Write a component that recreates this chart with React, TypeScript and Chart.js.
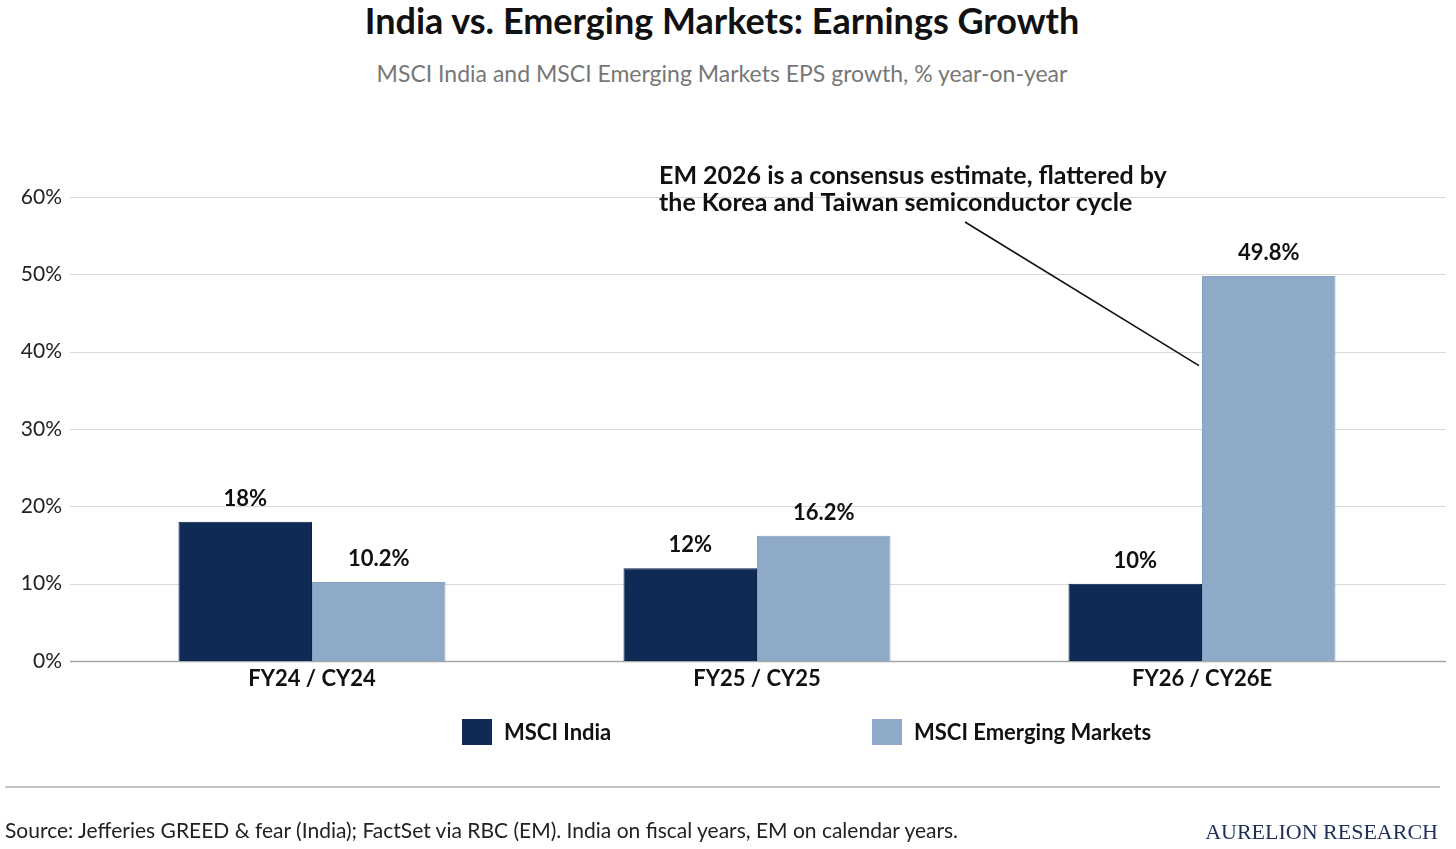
import { useEffect, useRef } from 'react';
import { Chart, registerables } from 'chart.js';

Chart.register(...registerables);

// data
const categories = ['FY24 / CY24', 'FY25 / CY25', 'FY26 / CY26E'];
const indiaGrowth = [18, 12, 10];
const emGrowth = [10.2, 16.2, 49.8];
const indiaLabels = ['18%', '12%', '10%'];
const emLabels = ['10.2%', '16.2%', '49.8%'];
const yTicks = [0, 10, 20, 30, 40, 50, 60];

const INDIA_COLOR = '#0f2a54';
const EM_COLOR = '#8faac8';
const FONT = 'Lato, "Open Sans", sans-serif';

const annotationLines = [
  'EM 2026 is a consensus estimate, flattered by',
  'the Korea and Taiwan semiconductor cycle',
];

// horizontal grid lines, wider than the chart area (as in the reference)
const gridPlugin = {
  id: 'wideGrid',
  beforeDatasetsDraw(chart: any) {
    const { ctx } = chart;
    const y = chart.scales.y;
    ctx.save();
    yTicks.forEach((t) => {
      const py = Math.round(y.getPixelForValue(t)) + 0.5;
      ctx.beginPath();
      ctx.strokeStyle = t === 0 ? '#a6a6a6' : '#d9d9d9';
      ctx.lineWidth = t === 0 ? 1.5 : 1.2;
      ctx.moveTo(70, py);
      ctx.lineTo(1446, py);
      ctx.stroke();
    });
    ctx.restore();
  },
};

// value labels above each bar
const valueLabelPlugin = {
  id: 'valueLabels',
  afterDatasetsDraw(chart: any) {
    const { ctx } = chart;
    ctx.save();
    ctx.font = `bold 22px ${FONT}`;
    ctx.fillStyle = '#111';
    ctx.textAlign = 'center';
    ctx.textBaseline = 'middle';
    [indiaLabels, emLabels].forEach((labels, di) => {
      chart.getDatasetMeta(di).data.forEach((bar: any, i: number) => {
        ctx.fillText(labels[i], bar.x, bar.y - 23);
      });
    });
    ctx.restore();
  },
};

// callout for the EM 2026 bar
const annotationPlugin = {
  id: 'emNote',
  afterDraw(chart: any) {
    const { ctx } = chart;
    const bar = chart.getDatasetMeta(1).data[2];
    const y = chart.scales.y;
    ctx.save();
    ctx.font = `bold 25px ${FONT}`;
    ctx.fillStyle = '#111';
    ctx.textAlign = 'left';
    ctx.textBaseline = 'middle';
    annotationLines.forEach((line, i) => {
      ctx.fillText(line, 659, 176 + i * 27);
    });
    ctx.beginPath();
    ctx.strokeStyle = '#111';
    ctx.lineWidth = 1.6;
    ctx.moveTo(965, 222);
    ctx.lineTo(bar.x - bar.width / 2 - 3, y.getPixelForValue(38.2));
    ctx.stroke();
    ctx.restore();
  },
};

export default function App() {
  const chartRef = useRef<HTMLCanvasElement>(null);
  const chartInstance = useRef<Chart | null>(null);

  useEffect(() => {
    document.body.style.margin = '0';
    if (!chartRef.current) return;
    if (chartInstance.current) chartInstance.current.destroy();

    const ctx = chartRef.current.getContext('2d');
    if (!ctx) return;

    chartInstance.current = new Chart(ctx, {
      type: 'bar',
      data: {
        labels: categories,
        datasets: [
          {
            label: 'MSCI India',
            data: indiaGrowth,
            backgroundColor: INDIA_COLOR,
            borderColor: '#0b2148',
            borderWidth: 1,
            categoryPercentage: 0.6,
            barPercentage: 1,
          },
          {
            label: 'MSCI Emerging Markets',
            data: emGrowth,
            backgroundColor: EM_COLOR,
            borderColor: '#86a1c1',
            borderWidth: 1,
            categoryPercentage: 0.6,
            barPercentage: 1,
          },
        ],
      },
      options: {
        animation: false,
        responsive: false,
        maintainAspectRatio: false,
        layout: { padding: { top: 197, right: 31.5, bottom: 148, left: 0 } },
        plugins: {
          legend: { display: false },
          title: { display: false },
          tooltip: { enabled: false },
        },
        scales: {
          x: {
            grid: { display: false },
            border: { display: false },
            ticks: {
              color: '#111',
              font: { family: FONT, size: 22, weight: 'bold' },
              padding: -3,
            },
            afterFit: (scale: any) => {
              scale.height = 40;
            },
          },
          y: {
            min: 0,
            max: 60,
            grid: { display: false },
            border: { display: false },
            afterBuildTicks: (scale: any) => {
              scale.ticks = yTicks.map((v) => ({ value: v }));
            },
            ticks: {
              color: '#222',
              font: { family: FONT, size: 21 },
              padding: 19.5,
              callback: (v: any) => `${v}%`,
            },
            afterFit: (scale: any) => {
              scale.width = 89.5;
            },
          },
        },
      } as any,
      plugins: [gridPlugin, valueLabelPlugin, annotationPlugin],
    });

    return () => {
      if (chartInstance.current) {
        chartInstance.current.destroy();
        chartInstance.current = null;
      }
    };
  }, []);

  const legendItem = (color: string, text: string, left: number) => (
    <div
      style={{
        position: 'absolute',
        left,
        top: 719,
        display: 'flex',
        alignItems: 'center',
        height: 26,
      }}
    >
      <span style={{ width: 30, height: 26, background: color, display: 'inline-block' }} />
      <span
        style={{
          marginLeft: 12,
          fontSize: 22,
          fontWeight: 700,
          color: '#111',
          whiteSpace: 'nowrap',
          lineHeight: '26px',
        }}
      >
        {text}
      </span>
    </div>
  );

  return (
    <div
      style={{
        position: 'relative',
        width: 1456,
        height: 849,
        background: '#fff',
        fontFamily: FONT,
        overflow: 'hidden',
      }}
    >
      <div
        style={{
          position: 'absolute',
          top: 0,
          left: 0,
          width: 1444,
          textAlign: 'center',
          fontSize: 36,
          fontWeight: 700,
          color: '#111',
          lineHeight: '40px',
        }}
      >
        India vs. Emerging Markets: Earnings Growth
      </div>
      <div
        style={{
          position: 'absolute',
          top: 59,
          left: 0,
          width: 1444,
          textAlign: 'center',
          fontSize: 23,
          color: '#777',
          lineHeight: '28px',
        }}
      >
        MSCI India and MSCI Emerging Markets EPS growth, % year-on-year
      </div>
      <canvas
        ref={chartRef}
        width={1456}
        height={849}
        style={{ position: 'absolute', top: 0, left: 0, width: 1456, height: 849 }}
      />
      {legendItem(INDIA_COLOR, 'MSCI India', 462)}
      {legendItem(EM_COLOR, 'MSCI Emerging Markets', 872)}
      <div
        style={{
          position: 'absolute',
          top: 786,
          left: 5,
          width: 1435,
          height: 2,
          background: '#c4c4c4',
        }}
      />
      <div
        style={{
          position: 'absolute',
          top: 817,
          left: 5,
          fontSize: 21,
          color: '#222',
          lineHeight: '26px',
          whiteSpace: 'nowrap',
        }}
      >
        Source: Jefferies GREED &amp; fear (India); FactSet via RBC (EM). India on fiscal years, EM on calendar years.
      </div>
      <div
        style={{
          position: 'absolute',
          top: 819,
          right: 18,
          fontSize: 22,
          fontFamily: '"Liberation Serif", "DejaVu Serif", serif',
          color: '#1e2f5a',
          lineHeight: '26px',
          whiteSpace: 'nowrap',
        }}
      >
        AURELION RESEARCH
      </div>
    </div>
  );
}
